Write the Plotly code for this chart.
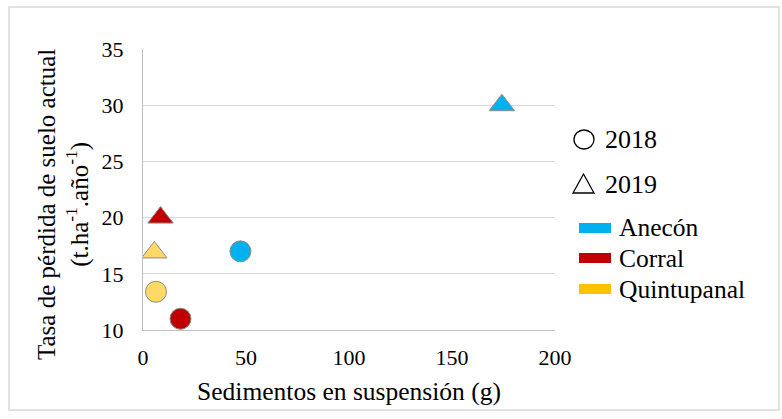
import plotly.graph_objects as go

# Sediment load (g) vs current soil-loss rate, per site and year
sites = ["Anecón", "Corral", "Quintupanal"]
sed_2018 = [47.3, 18.2, 6.3]
loss_2018 = [17.0, 11.0, 13.4]
sed_2019 = [174.2, 8.5, 5.5]
loss_2019 = [30.0, 20.0, 16.9]
legend_colors = ["#00B0F0", "#C00000", "#FFC000"]
marker_colors = ["#00B0F0", "#C00000", "#FFD966"]
years = ["2018", "2019"]

x_ticks = [0, 50, 100, 150, 200]
y_ticks = [10, 15, 20, 25, 30, 35]

FONT = "Liberation Serif, Times New Roman, serif"
W, H = 782, 419
ML, MR, MT, MB = 143, 227, 49, 89

fig = go.Figure()
for i, s in enumerate(sites):
    fig.add_trace(go.Scatter(
        x=[sed_2018[i]], y=[loss_2018[i]], mode="markers", name=f"{s} 2018",
        marker=dict(symbol="circle", size=21, color=marker_colors[i],
                    line=dict(color="#8c8c8c", width=1)),
        showlegend=False))
    fig.add_trace(go.Scatter(
        x=[sed_2019[i]], y=[loss_2019[i]], mode="markers", name=f"{s} 2019",
        marker=dict(symbol="triangle-up", size=22, color=marker_colors[i],
                    line=dict(color="#8c8c8c", width=1)),
        showlegend=False))

pw = W - ML - MR
ph = H - MT - MB


def px_x(p):
    return (p - ML) / pw


def px_y(p):
    return 1 - (p - MT) / ph


shapes = [
    # outer frame of the chart area
    dict(type="rect", xref="paper", yref="paper",
         x0=px_x(9), x1=px_x(779), y0=px_y(410), y1=px_y(7),
         line=dict(color="#d9d9d9", width=1.5), fillcolor="rgba(0,0,0,0)"),
    # year key: hollow circle and hollow triangle
    dict(type="circle", xref="paper", yref="paper",
         x0=px_x(574), x1=px_x(594), y0=px_y(149), y1=px_y(130),
         line=dict(color="#000", width=1.3), fillcolor="rgba(0,0,0,0)"),
    dict(type="path", xref="paper", yref="paper",
         path=(f"M {px_x(573)} {px_y(193)} L {px_x(594)} {px_y(193)} "
               f"L {px_x(583.5)} {px_y(174)} Z"),
         line=dict(color="#000", width=1.3), fillcolor="rgba(0,0,0,0)"),
]
annotations = []
for yr, yy in zip(years, [139, 184]):
    annotations.append(dict(text=yr, x=px_x(603), y=px_y(yy), xanchor="left",
                            yanchor="middle", showarrow=False, xref="paper",
                            yref="paper", font=dict(family=FONT, size=26, color="#000")))
legend_rows = [228, 258, 289]
for s, c, yy in zip(sites, legend_colors, legend_rows):
    shapes.append(dict(type="rect", xref="paper", yref="paper",
                       x0=px_x(579), x1=px_x(611), y0=px_y(yy + 5), y1=px_y(yy - 5),
                       line=dict(width=0), fillcolor=c))
    annotations.append(dict(text=s, x=px_x(617), y=px_y(yy), xanchor="left",
                            yanchor="middle", showarrow=False, xref="paper", yref="paper",
                            font=dict(family=FONT, size=25.5, color="#000")))

# y-axis title, two lines
annotations.append(dict(
    text="Tasa de pérdida de suelo actual<br>(t.ha<sup>-1</sup>.año<sup>-1</sup>)",
    textangle=-90, x=px_x(63), y=px_y(205), xanchor="center", yanchor="middle",
    showarrow=False, xref="paper", yref="paper",
    font=dict(family=FONT, size=25, color="#000")))

fig.update_layout(
    width=W, height=H,
    margin=dict(l=ML, r=MR, t=MT, b=MB),
    paper_bgcolor="white", plot_bgcolor="white",
    font=dict(family=FONT, size=21, color="#000"),
    shapes=shapes, annotations=annotations,
)
fig.update_xaxes(
    range=[0, 200], tickvals=x_ticks, showgrid=False, zeroline=False,
    showline=True, linecolor="#bfbfbf", linewidth=1,
    ticks="", ticklabelstandoff=8, tickfont=dict(family=FONT, size=22),
    title=dict(text="Sedimentos en suspensión (g)", standoff=12,
               font=dict(family=FONT, size=25.5)),
)
fig.update_yaxes(
    range=[10, 35], tickvals=y_ticks, showgrid=True, gridcolor="#d9d9d9",
    zeroline=False, showline=True, linecolor="#bfbfbf", linewidth=1,
    ticks="", ticklabelstandoff=14, tickfont=dict(family=FONT, size=22),
)

fig.write_html("out.html")
